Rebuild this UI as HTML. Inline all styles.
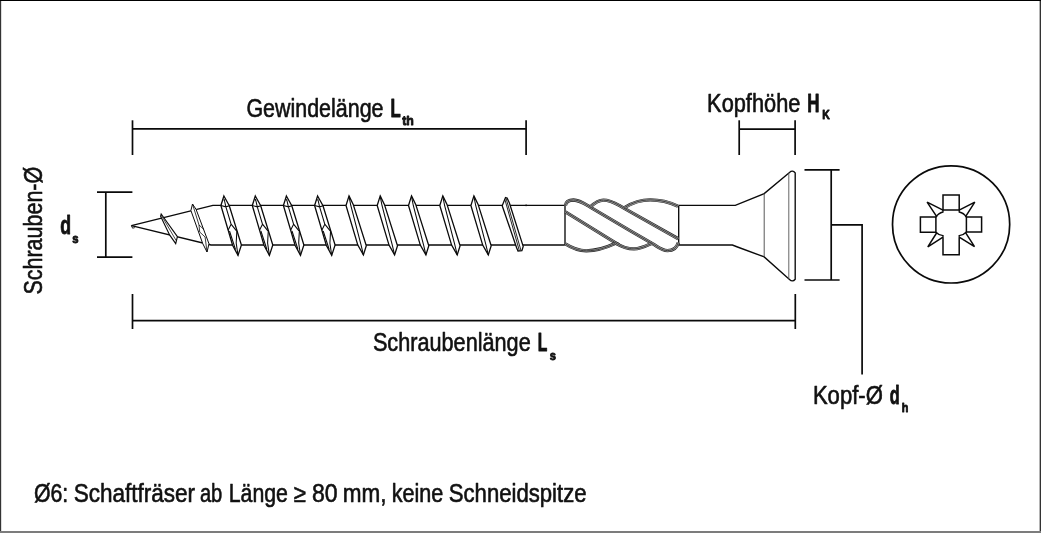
<!DOCTYPE html>
<html lang="de"><head><meta charset="utf-8"><title>Schraube</title>
<style>
html,body{margin:0;padding:0;background:#fff;}
body{width:1041px;height:533px;overflow:hidden;position:relative;font-family:"Liberation Sans",Arial,sans-serif;}
.b{position:absolute;pointer-events:none;}
#bt{left:0;top:0;width:1041px;height:1px;background:#000;}
#bl{left:0;top:0;width:1px;height:533px;background:#333;box-shadow:1px 0 0 #dcdcdc;}
#br{left:1040px;top:0;width:1px;height:533px;background:#333;box-shadow:-1px 0 0 #b4b4b4;}
#bb{left:0;top:531px;width:1041px;height:2px;background:#7c7c7c;}
svg{position:absolute;left:0;top:0;display:block;}
</style></head><body>
<svg width="1041" height="533" viewBox="0 0 1041 533">
<rect width="1041" height="533" fill="#fff"/>
<line x1="132.5" y1="120.3" x2="132.5" y2="155" stroke="#0a0a0a" stroke-width="1.7" />
<line x1="526.1" y1="120.3" x2="526.1" y2="155" stroke="#0a0a0a" stroke-width="1.7" />
<line x1="132.5" y1="128.9" x2="526.1" y2="128.9" stroke="#0a0a0a" stroke-width="1.7" />
<line x1="739.2" y1="120.3" x2="739.2" y2="155" stroke="#0a0a0a" stroke-width="1.7" />
<line x1="795.1" y1="120.3" x2="795.1" y2="155" stroke="#0a0a0a" stroke-width="1.7" />
<line x1="739.2" y1="129.1" x2="795.1" y2="129.1" stroke="#0a0a0a" stroke-width="1.7" />
<line x1="132.5" y1="294" x2="132.5" y2="329" stroke="#0a0a0a" stroke-width="1.7" />
<line x1="795.3" y1="294" x2="795.3" y2="329" stroke="#0a0a0a" stroke-width="1.7" />
<line x1="132.5" y1="320.6" x2="795.3" y2="320.6" stroke="#0a0a0a" stroke-width="1.7" />
<line x1="97" y1="192.2" x2="132.4" y2="192.2" stroke="#0a0a0a" stroke-width="1.7" />
<line x1="97" y1="257.2" x2="132.4" y2="257.2" stroke="#0a0a0a" stroke-width="1.7" />
<line x1="105.8" y1="192.2" x2="105.8" y2="257.2" stroke="#0a0a0a" stroke-width="1.7" />
<line x1="804.5" y1="169.8" x2="839.6" y2="169.8" stroke="#0a0a0a" stroke-width="1.7" />
<line x1="804.5" y1="280" x2="839.6" y2="280" stroke="#0a0a0a" stroke-width="1.7" />
<line x1="831.2" y1="169.8" x2="831.2" y2="280" stroke="#0a0a0a" stroke-width="1.7" />
<path d="M831.2 224.8 H862.1 V374.5" stroke="#0a0a0a" stroke-width="1.7" fill="none" />
<path d="M131.4 225.6 L212.9 205.4 H564.8" stroke="#0a0a0a" stroke-width="1.35" fill="none" />
<path d="M131.4 225.6 L211 245.0 H564.8" stroke="#0a0a0a" stroke-width="1.35" fill="none" />
<path d="M131.4 225.6 l1.2 2.6 l2.2 -0.6" stroke="#0a0a0a" stroke-width="0.9" fill="none" />
<path d="M678.7 205.4 H735.3 L764.2 193.6 L789.5 172.4 Q792.6 169.6 795.2 172.9 V279.2 Q792.6 282.4 789.5 279.5 L764.2 256.9 L737.5 247 L732.4 245.0 H678.7" stroke="#0a0a0a" stroke-width="1.35" fill="none" />
<line x1="764.2" y1="193.6" x2="764.2" y2="256.9" stroke="#444" stroke-width="0.9" />
<line x1="788.8" y1="173.2" x2="788.8" y2="278.8" stroke="#555" stroke-width="0.9" />
<line x1="565" y1="205.4" x2="565" y2="245.0" stroke="#0a0a0a" stroke-width="1.35" />
<line x1="678.7" y1="205.4" x2="678.7" y2="245.0" stroke="#0a0a0a" stroke-width="1.35" />
<path d="M161.2 214.0 L177.4 236.6 L175.7 243.7 L169.6 234.9 L160.6 216.3 Z" stroke="#0a0a0a" stroke-width="1.15" fill="#fff" />
<path d="M161.4 215.4 L176.2 240.6" stroke="#0a0a0a" stroke-width="0.75" fill="none" />
<path d="M192.5 204.0 L196.1 209.4 L209.0 243.8 L207.0 252.0 L202.7 243.5 L190.9 210.5 Z" stroke="#0a0a0a" stroke-width="1.0" fill="#fff" />
<path d="M192.5 204.0 L199.0 225.0 L204.0 229.5 M199.0 225.0 L199.7 232.0 L205.1 237.0 L207.0 252.0" stroke="#0a0a0a" stroke-width="0.8" fill="none" />
<path d="M223.9 196.0 L229.3 205.8 L241.4 244.95 L238.0 255.35 L232.6 245.25 L220.9 205.45 Z" stroke="#0a0a0a" stroke-width="1.3" fill="#fff" stroke-linejoin="miter"/>
<path d="M220.9 205.45 L225.9 206.85 L229.3 205.8 M224.1 199.0 L225.9 206.85 L231.1 224.2 L237.3 231.8 M231.1 224.2 L228.2 230.0 M236.8 232.0 L236.2 243.0 L238.0 255.35 M229.5 231.0 L235.5 249.5 M223.6 200.2 L224.5 200.2" stroke="#0a0a0a" stroke-width="1.05" fill="none" />
<path d="M255.3 196.0 L260.7 205.8 L272.8 244.95 L269.4 255.35 L264.0 245.25 L252.3 205.45 Z" stroke="#0a0a0a" stroke-width="1.3" fill="#fff" stroke-linejoin="miter"/>
<path d="M252.3 205.45 L257.3 206.85 L260.7 205.8 M255.5 199.0 L257.3 206.85 L262.5 224.2 L268.7 231.8 M262.5 224.2 L259.6 230.0 M268.2 232.0 L267.6 243.0 L269.4 255.35 M260.9 231.0 L266.9 249.5 M255.0 200.2 L255.9 200.2" stroke="#0a0a0a" stroke-width="1.05" fill="none" />
<path d="M286.4 196.0 L291.8 205.8 L303.9 244.95 L300.5 255.35 L295.1 245.25 L283.4 205.45 Z" stroke="#0a0a0a" stroke-width="1.3" fill="#fff" stroke-linejoin="miter"/>
<path d="M283.4 205.45 L288.4 206.85 L291.8 205.8 M286.6 199.0 L288.4 206.85 L293.6 224.2 L299.8 231.8 M293.6 224.2 L290.7 230.0 M299.3 232.0 L298.7 243.0 L300.5 255.35 M292.0 231.0 L298.0 249.5 M286.1 200.2 L287.0 200.2" stroke="#0a0a0a" stroke-width="1.05" fill="none" />
<path d="M317.6 196.0 L323.0 205.8 L335.1 244.95 L331.7 255.35 L326.3 245.25 L314.6 205.45 Z" stroke="#0a0a0a" stroke-width="1.3" fill="#fff" stroke-linejoin="miter"/>
<path d="M314.6 205.45 L319.6 206.85 L323.0 205.8 M317.8 199.0 L319.6 206.85 L324.8 224.2 L331.0 231.8 M324.8 224.2 L321.9 230.0 M330.5 232.0 L329.9 243.0 L331.7 255.35 M323.2 231.0 L329.2 249.5 M317.3 200.2 L318.2 200.2" stroke="#0a0a0a" stroke-width="1.05" fill="none" />
<path d="M349 195.9 L353.2 204.4 L366.3 245.7 L363.4 254.9 L357.8 245.1 L346.0 205.5 Z" stroke="#0a0a0a" stroke-width="1.3" fill="#fff" />
<path d="M349.2 197.4 L350.8 205.5 L361.1 245.1 L363.4 254.9" stroke="#0a0a0a" stroke-width="1.05" fill="none" />
<path d="M380.2 195.9 L384.4 204.4 L397.5 245.7 L394.6 254.9 L389.0 245.1 L377.2 205.5 Z" stroke="#0a0a0a" stroke-width="1.3" fill="#fff" />
<path d="M380.4 197.4 L382.0 205.5 L392.3 245.1 L394.6 254.9" stroke="#0a0a0a" stroke-width="1.05" fill="none" />
<path d="M411.5 195.9 L415.7 204.4 L428.8 245.7 L425.9 254.9 L420.3 245.1 L408.5 205.5 Z" stroke="#0a0a0a" stroke-width="1.3" fill="#fff" />
<path d="M411.7 197.4 L413.3 205.5 L423.6 245.1 L425.9 254.9" stroke="#0a0a0a" stroke-width="1.05" fill="none" />
<path d="M442.8 195.9 L447.0 204.4 L460.1 245.7 L457.2 254.9 L451.6 245.1 L439.8 205.5 Z" stroke="#0a0a0a" stroke-width="1.3" fill="#fff" />
<path d="M443.0 197.4 L444.6 205.5 L454.9 245.1 L457.2 254.9" stroke="#0a0a0a" stroke-width="1.05" fill="none" />
<path d="M473.9 195.9 L478.1 204.4 L491.2 245.7 L488.3 254.9 L482.7 245.1 L470.9 205.5 Z" stroke="#0a0a0a" stroke-width="1.3" fill="#fff" />
<path d="M474.1 197.4 L475.7 205.5 L486.0 245.1 L488.3 254.9" stroke="#0a0a0a" stroke-width="1.05" fill="none" />
<path d="M505.5 197.5 L507.1 198.1 L509.4 203.1 L523.2 246.4 L521.9 250.6 L518 251 L516.6 247.7 L502.2 205.7 Z" stroke="#0a0a0a" stroke-width="1.3" fill="#fff" />
<path d="M504.8 199.2 L519.3 250.6 M506.1 198.5 L521 250.6" stroke="#0a0a0a" stroke-width="0.9" fill="none" />
<line x1="526.1" y1="204.4" x2="526.1" y2="206.2" stroke="#0a0a0a" stroke-width="1.0" />
<path d="M565.4 205.6 C566 201.5 569.5 200.0 573.5 200.0 C580 200.2 585 204 590.2 207.1 L630 230.7 L652.9 243.9 C658 247 662 250.6 667.5 250.6 C673 250.6 677 247.5 678.2 242.6" stroke="#262626" stroke-width="3.3" fill="none" stroke-linecap="butt" stroke-linejoin="round"/>
<path d="M565.4 205.6 C566 201.5 569.5 200.0 573.5 200.0 C580 200.2 585 204 590.2 207.1 L630 230.7 L652.9 243.9 C658 247 662 250.6 667.5 250.6 C673 250.6 677 247.5 678.2 242.6" stroke="#a0a0a0" stroke-width="2.1" fill="none" stroke-linecap="butt"/>
<path d="M565.4 205.6 C566 201.5 569.5 200.0 573.5 200.0 C580 200.2 585 204 590.2 207.1 L630 230.7 L652.9 243.9 C658 247 662 250.6 667.5 250.6 C673 250.6 677 247.5 678.2 242.6" stroke="#262626" stroke-width="0.8" fill="none" stroke-linecap="butt"/>
<path d="M590.5 206.8 C594 203.5 598 200.1 603.4 200.1 C610 200.1 615 203 620 205.8 L630 211.7 L678.3 238.8" stroke="#262626" stroke-width="3.3" fill="none" stroke-linecap="butt" stroke-linejoin="round"/>
<path d="M590.5 206.8 C594 203.5 598 200.1 603.4 200.1 C610 200.1 615 203 620 205.8 L630 211.7 L678.3 238.8" stroke="#a0a0a0" stroke-width="2.1" fill="none" stroke-linecap="butt"/>
<path d="M590.5 206.8 C594 203.5 598 200.1 603.4 200.1 C610 200.1 615 203 620 205.8 L630 211.7 L678.3 238.8" stroke="#262626" stroke-width="0.8" fill="none" stroke-linecap="butt"/>
<path d="M624.5 207.6 C632 203 640 199.9 650.2 199.9 C661 199.9 670 202.5 678 206.2" stroke="#262626" stroke-width="3.3" fill="none" stroke-linecap="butt" stroke-linejoin="round"/>
<path d="M624.5 207.6 C632 203 640 199.9 650.2 199.9 C661 199.9 670 202.5 678 206.2" stroke="#a0a0a0" stroke-width="2.1" fill="none" stroke-linecap="butt"/>
<path d="M624.5 207.6 C632 203 640 199.9 650.2 199.9 C661 199.9 670 202.5 678 206.2" stroke="#262626" stroke-width="0.8" fill="none" stroke-linecap="butt"/>
<path d="M565.4 211.8 L615.2 242.6 L619 244.8" stroke="#262626" stroke-width="3.3" fill="none" stroke-linecap="butt" stroke-linejoin="round"/>
<path d="M565.4 211.8 L615.2 242.6 L619 244.8" stroke="#a0a0a0" stroke-width="2.1" fill="none" stroke-linecap="butt"/>
<path d="M565.4 211.8 L615.2 242.6 L619 244.8" stroke="#262626" stroke-width="0.8" fill="none" stroke-linecap="butt"/>
<path d="M565.4 243.9 C571 247.5 578 250.8 586.3 250.8 C597 250.8 606 247.8 615 243.6" stroke="#262626" stroke-width="3.3" fill="none" stroke-linecap="butt" stroke-linejoin="round"/>
<path d="M565.4 243.9 C571 247.5 578 250.8 586.3 250.8 C597 250.8 606 247.8 615 243.6" stroke="#a0a0a0" stroke-width="2.1" fill="none" stroke-linecap="butt"/>
<path d="M565.4 243.9 C571 247.5 578 250.8 586.3 250.8 C597 250.8 606 247.8 615 243.6" stroke="#262626" stroke-width="0.8" fill="none" stroke-linecap="butt"/>
<path d="M615.2 242.8 C622 247 628 248.9 634 248.9 C641 248.9 646 246 652 243.2" stroke="#262626" stroke-width="3.3" fill="none" stroke-linecap="butt" stroke-linejoin="round"/>
<path d="M615.2 242.8 C622 247 628 248.9 634 248.9 C641 248.9 646 246 652 243.2" stroke="#a0a0a0" stroke-width="2.1" fill="none" stroke-linecap="butt"/>
<path d="M615.2 242.8 C622 247 628 248.9 634 248.9 C641 248.9 646 246 652 243.2" stroke="#262626" stroke-width="0.8" fill="none" stroke-linecap="butt"/>
<circle cx="951.1" cy="224.4" r="58.6" fill="none" stroke="#0a0a0a" stroke-width="1.7"/>
<path d="M943 210 V194.9 H959.2 V210 Z" stroke="#0a0a0a" stroke-width="1.5" fill="none" />
<path d="M935.9 217.1 H920.4 V232.2 H935.9 Z" stroke="#0a0a0a" stroke-width="1.5" fill="none" />
<path d="M966.4 217.1 H981.6 V232.0 H966.4 Z" stroke="#0a0a0a" stroke-width="1.5" fill="none" />
<path d="M943 237.3 V254.8 H959.2 V237.3" stroke="#0a0a0a" stroke-width="1.5" fill="none" />
<path d="M943 210.2 L927.1 202.1 L936.9 216.8" stroke="#0a0a0a" stroke-width="1.5" fill="none" stroke-linejoin="miter" stroke-miterlimit="3"/>
<path d="M959.2 210.2 L974.8 202.1 L965.4 216.8" stroke="#0a0a0a" stroke-width="1.5" fill="none" stroke-linejoin="miter" stroke-miterlimit="3"/>
<path d="M936.9 232.5 L927.8 246.9 L943 237.1" stroke="#0a0a0a" stroke-width="1.5" fill="none" stroke-linejoin="miter" stroke-miterlimit="3"/>
<path d="M965.4 232.3 L974.5 246.7 L959.2 237.1" stroke="#0a0a0a" stroke-width="1.5" fill="none" stroke-linejoin="miter" stroke-miterlimit="3"/>
<path d="M935.9 217.1 A11 11 0 0 1 943 212.0 V210 M959.2 210 V212 A11 11 0 0 1 966.4 217.1 M966.4 232.0 A11 11 0 0 1 959.2 235.6 V237.3 M943 237.3 V235.6 A11 11 0 0 1 935.9 232.2" stroke="#0a0a0a" stroke-width="1.3" fill="none" />
<g font-family="&quot;Liberation Sans&quot;, Arial, sans-serif" fill="#111" stroke="#111" stroke-width="0.6" stroke-linejoin="round" style="opacity:.999">
<text><tspan x="246.4" y="116.7" font-size="25" textLength="137.1" lengthAdjust="spacingAndGlyphs">Gewindelänge</tspan><tspan font-size="6"> </tspan><tspan x="390.5" y="116.7" font-size="25" font-weight="700" stroke-width="0.9" textLength="10.2" lengthAdjust="spacingAndGlyphs">L</tspan><tspan x="402.2" y="124.8" font-size="13.5" font-weight="700" stroke-width="0.9" textLength="11.6" lengthAdjust="spacingAndGlyphs">th</tspan></text>
<text><tspan x="707.1" y="111.5" font-size="25" textLength="93.3" lengthAdjust="spacingAndGlyphs">Kopfhöhe</tspan><tspan font-size="6"> </tspan><tspan x="807.3" y="111.5" font-size="25" font-weight="700" stroke-width="0.9" textLength="12.2" lengthAdjust="spacingAndGlyphs">H</tspan><tspan x="822.3" y="119.4" font-size="13" font-weight="700" stroke-width="0.9" textLength="7.5" lengthAdjust="spacingAndGlyphs">K</tspan></text>
<text><tspan x="372.9" y="351.2" font-size="25" textLength="157.8" lengthAdjust="spacingAndGlyphs">Schraubenlänge</tspan><tspan font-size="6"> </tspan><tspan x="537.8" y="351.2" font-size="25" font-weight="700" stroke-width="0.9" textLength="9.6" lengthAdjust="spacingAndGlyphs">L</tspan><tspan x="549.8" y="359.7" font-size="13.5" font-weight="700" stroke-width="0.9" textLength="6.2" lengthAdjust="spacingAndGlyphs">s</tspan></text>
<text><tspan x="812.9" y="404.2" font-size="25" textLength="69.9" lengthAdjust="spacingAndGlyphs">Kopf-Ø</tspan><tspan font-size="6"> </tspan><tspan x="889.7" y="404.2" font-size="25" font-weight="700" stroke-width="0.9" textLength="9.9" lengthAdjust="spacingAndGlyphs">d</tspan><tspan x="901.7" y="412" font-size="13.5" font-weight="700" stroke-width="0.9" textLength="6.6" lengthAdjust="spacingAndGlyphs">h</tspan></text>
<text><tspan x="60.2" y="234.1" font-size="26" font-weight="700" stroke-width="0.9" textLength="10.8" lengthAdjust="spacingAndGlyphs">d</tspan><tspan x="72.2" y="242.6" font-size="13.5" font-weight="700" stroke-width="0.9" textLength="6.3" lengthAdjust="spacingAndGlyphs">s</tspan></text>
<g transform="translate(42.4 293.5) rotate(-90)">
<text><tspan x="-1.1" y="0" font-size="25" textLength="127.8" lengthAdjust="spacingAndGlyphs">Schrauben-Ø</tspan></text>
</g>
<text><tspan x="33.9" y="501.9" font-size="25" textLength="34.3" lengthAdjust="spacingAndGlyphs">Ø6:</tspan><tspan font-size="6"> </tspan><tspan x="73.7" y="501.9" font-size="25" textLength="121.3" lengthAdjust="spacingAndGlyphs">Schaftfräser</tspan><tspan font-size="6"> </tspan><tspan x="199.9" y="501.9" font-size="25" textLength="22.4" lengthAdjust="spacingAndGlyphs">ab</tspan><tspan font-size="6"> </tspan><tspan x="228.7" y="501.9" font-size="25" textLength="59.3" lengthAdjust="spacingAndGlyphs">Länge</tspan><tspan font-size="6"> </tspan><tspan x="293.8" y="501.9" font-size="25" textLength="12.2" lengthAdjust="spacingAndGlyphs">≥</tspan><tspan font-size="6"> </tspan><tspan x="311.9" y="501.9" font-size="25" textLength="25.6" lengthAdjust="spacingAndGlyphs">80</tspan><tspan font-size="6"> </tspan><tspan x="342.7" y="501.9" font-size="25" textLength="43.8" lengthAdjust="spacingAndGlyphs">mm,</tspan><tspan font-size="6"> </tspan><tspan x="391.7" y="501.9" font-size="25" textLength="51.6" lengthAdjust="spacingAndGlyphs">keine</tspan><tspan font-size="6"> </tspan><tspan x="448.8" y="501.9" font-size="25" textLength="137.7" lengthAdjust="spacingAndGlyphs">Schneidspitze</tspan></text>
</g>
</svg>
<div class="b" id="bl"></div><div class="b" id="br"></div><div class="b" id="bt"></div><div class="b" id="bb"></div>
</body></html>
